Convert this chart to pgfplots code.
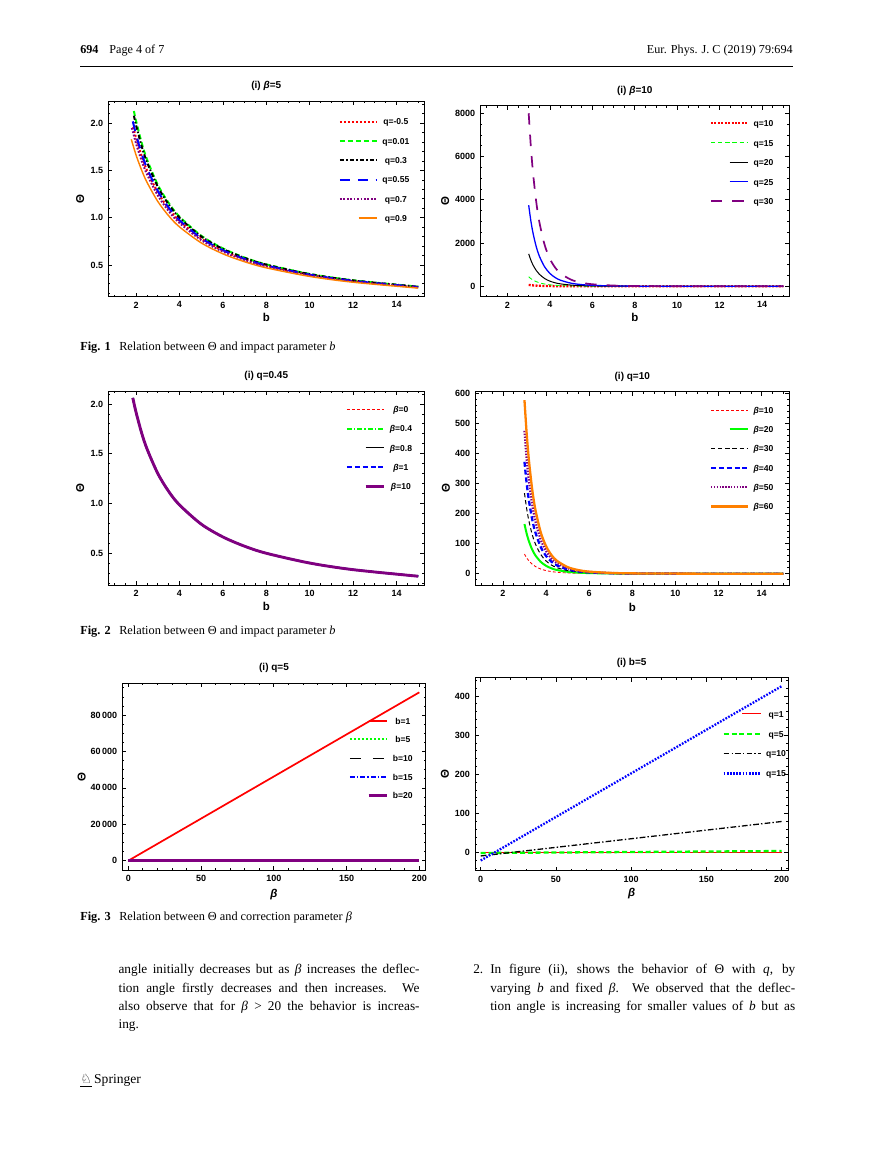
\documentclass[border=0pt]{standalone}
\usepackage{fontspec}
\setmainfont{Liberation Serif}
\newfontfamily\plotfont{Liberation Sans}
\newfontfamily\symfont{DejaVu Sans}
\usepackage{pgfplots}
\usepackage{pgfplotstable}
\pgfplotsset{compat=1.18}

\definecolor{mred}{rgb}{1,0,0}
\definecolor{mgreen}{rgb}{0,1,0}
\definecolor{mblue}{rgb}{0,0,1}
\definecolor{mpurple}{rgb}{0.5,0,0.5}
\definecolor{morange}{rgb}{1,0.5,0}

\newcommand\ticfont{\plotfont\bfseries\fontsize{6.3}{7}\selectfont}
\newcommand\legfont{\plotfont\bfseries\fontsize{6}{7}\selectfont}
\newcommand\labfont{\plotfont\bfseries\fontsize{8}{9}\selectfont}
\newcommand\titfont{\plotfont\bfseries\fontsize{7}{8}\selectfont}

\pgfplotsset{
  mma/.style={
    scale only axis, anchor=south west,
    axis line style={line width=0.6pt, black},
    tick align=inside,
    major tick length=2.8pt,
    minor tick length=1.4pt,
    every tick/.style={black, line width=0.5pt},
    tick label style={font=\ticfont},
    scaled ticks=false,
    /pgf/number format/assume math mode=true,
    label style={font=\labfont},
    title style={font=\titfont, at={(axis description cs:0.5,1)}, anchor=center, yshift=4.5pt},
    xlabel style={at={(axis description cs:0.5,0)}, anchor=center},
    ylabel style={at={(axis description cs:0,0.5)}, anchor=center},
    legend cell align=center,
    legend style={draw=none, fill=none, anchor=north west, inner sep=0pt, outer sep=0pt,
      font=\legfont, nodes={inner sep=0pt, text height=4.6pt, text depth=0pt},
      /tikz/every odd column/.append style={column sep=3pt}},
    legend image code/.code={\draw[##1] (0pt,0pt) -- (26pt,0pt);},
  },
  short/.style={legend image code/.code={\draw[##1] (13pt,0pt) -- (26pt,0pt);}},
  oneplace/.style={yticklabel style={/pgf/number format/fixed,
      /pgf/number format/fixed zerofill, /pgf/number format/precision=1}},
}

% Theta(b) for q=0.45, all beta curves coincide
\pgfplotstableread{
b th
1.85 2.060
2 1.915
2.25 1.713
2.5 1.550
3 1.301
3.5 1.121
4 0.985
5 0.792
6 0.663
7 0.5696
8 0.499
10 0.4006
12 0.334
15 0.268
}\tabqf

% beta=10, varying q
\pgfplotstableread{
b q10 q15 q20 q25 q30
3 65 440 1500 3750 8000
3.1 52.7 357 1216 3040 6486
3.2 43 291 992 2481 5293
3.35 32.1 217 740 1851 3949
3.5 24.2 164 560 1399 2984
3.75 15.6 106 360 900 1920
4 10.3 69.8 238 595 1270
4.25 7.0 47.3 161 403.5 861
4.5 4.85 32.8 112 279.8 597
5 2.47 16.7 57 142.5 304
5.5 1.35 9.1 31 77.6 166
6 0.77 5.2 17.8 44.4 94.8
7 0.29 1.9 6.6 16.6 35.4
8 0.12 0.83 2.8 7.05 15.0
10 0.03 0.2 0.68 1.69 3.6
12 0.01 0.06 0.21 0.53 1.1
15 0 0.01 0.05 0.13 0.27
}\tabbt

% q=10, varying beta
\pgfplotstableread{
b s10 s20 s30 s40 s50 s60
3 65 165 268 372 475 577
3.1 52.7 133.8 217.3 301.6 385.1 467.8
3.2 43 109.2 177.3 246.1 314.3 381.7
3.35 32.1 81.4 132.3 183.6 234.5 284.8
3.5 24.2 61.5 100 138.8 177.2 215.2
3.75 15.6 39.6 64.3 89.3 114 138.5
4 10.3 26.2 42.5 59.0 75.4 91.6
4.25 7.0 17.8 28.8 40.0 51.1 62.1
4.5 4.85 12.3 20 27.8 35.4 43.0
5 2.47 6.27 10.2 14.1 18.1 21.9
5.5 1.35 3.42 5.55 7.7 9.83 11.9
6 0.77 1.96 3.18 4.41 5.63 6.84
7 0.29 0.73 1.18 1.64 2.1 2.55
8 0.12 0.31 0.5 0.7 0.89 1.08
10 0.03 0.07 0.12 0.17 0.21 0.26
12 0.01 0.02 0.04 0.05 0.07 0.08
15 0 0.01 0.01 0.01 0.02 0.02
}\tabqt

\begin{document}
\begin{tikzpicture}[x=0.7pt,y=0.7pt]
\path[use as bounding box, fill=white] (0,0) rectangle (869,1154);

% running head
\node[anchor=base west, inner sep=0, font=\fontsize{8.5}{10}\selectfont] at (80,1100) {\textbf{694}\hspace{0.9em}Page 4 of 7};
\node[anchor=base east, inner sep=0, font=\fontsize{8.5}{10}\selectfont] at (793,1100) {Eur. Phys. J. C (2019) 79:694};
\draw[line width=1.1pt] (80,1087.3) -- (793,1087.3);

% ---------- Fig 1 (i) beta=5
\coordinate (p1) at (108.3,857.3);
\begin{axis}[mma, oneplace, at={(p1)}, width=221.2pt, height=137pt,
  xmin=0.72, xmax=15.28, ymin=0.164, ymax=2.236,
  xtick={2,4,...,14}, minor xtick={1,1.5,...,15},
  ytick={0.5,1,1.5,2}, minor ytick={0.2,0.3,...,2.2},
  title={(i) \textit{β}=5}, xlabel={b}, ylabel={Θ},
  xlabel style={yshift=-14.7pt}, ylabel style={yshift=19.6pt},
  legend style={at={(0.730,0.911)}, row sep=8.9pt}]
\addplot[mred, line width=1.4pt, dash pattern=on 1.4pt off 1.4pt, smooth] coordinates {
 (1.87,1.960) (2,1.8445) (2.25,1.6567) (2.5,1.5034) (3,1.2682) (3.5,1.0964) (4,0.9656)
 (5,0.7794) (6,0.6534) (7,0.5624) (8,0.4937) (10,0.3967) (12,0.3315) (15,0.266)};
\addlegendentry{q=-0.5}
\addplot[mgreen, line width=1.4pt, dash pattern=on 3.5pt off 2.1pt, smooth] coordinates {
 (1.9,2.130) (2,2.023) (2.25,1.799) (2.5,1.619) (3,1.349) (3.5,1.157) (4,1.012)
 (5,0.810) (6,0.675) (7,0.578) (8,0.506) (10,0.405) (12,0.3375) (15,0.270)};
\addlegendentry{q=0.01}
\addplot[black, line width=1.4pt, dash pattern=on 3pt off 1.5pt on 1pt off 1.5pt, smooth] coordinates {
 (1.9,2.080) (2,1.978) (2.25,1.763) (2.5,1.590) (3,1.329) (3.5,1.1415) (4,1.0005)
 (5,0.802) (6,0.6695) (7,0.5744) (8,0.503) (10,0.4029) (12,0.336) (15,0.269)};
\addlegendentry{q=0.3}
\addplot[mblue, line width=1.4pt, dash pattern=on 7pt off 5.5pt, smooth] coordinates {
 (1.85,2.02) (2,1.880) (2.25,1.684) (2.5,1.525) (3,1.283) (3.5,1.107) (4,0.973)
 (5,0.784) (6,0.656) (7,0.564) (8,0.495) (10,0.397) (12,0.332) (15,0.266)};
\addlegendentry{q=0.55}
\addplot[mpurple, line width=1.4pt, dash pattern=on 1.2pt off 1.2pt, smooth] coordinates {
 (1.81,1.95) (2,1.786) (2.25,1.608) (2.5,1.462) (3,1.237) (3.5,1.071) (4,0.945)
 (5,0.764) (6,0.641) (7,0.5525) (8,0.485) (10,0.390) (12,0.326) (15,0.262)};
\addlegendentry{q=0.7}
\addplot[morange, line width=1pt, smooth, short] coordinates {
 (1.78,1.83) (2,1.663) (2.25,1.507) (2.5,1.3765) (3,1.1726) (3.5,1.0207) (4,0.903)
 (5,0.734) (6,0.618) (7,0.534) (8,0.4696) (10,0.3785) (12,0.317) (15,0.255)};
\addlegendentry{q=0.9}
\end{axis}

% ---------- Fig 1 (i) beta=10
\coordinate (p2) at (480.3,857.3);
\begin{axis}[mma, at={(p2)}, width=216.3pt, height=133.7pt,
  xmin=0.72, xmax=15.28, ymin=-480, ymax=8350,
  xtick={2,4,...,14}, minor xtick={1,1.5,...,15},
  ytick={0,2000,...,8000}, minor ytick={0,500,...,8000},
  yticklabel style={/pgf/number format/1000 sep={}},
  title={(i) \textit{β}=10}, xlabel={b}, ylabel={Θ},
  xlabel style={yshift=-14.7pt}, ylabel style={yshift=24.5pt},
  legend style={at={(0.743,0.925)}, row sep=9.05pt}]
\addplot[mred, line width=1.6pt, dash pattern=on 1.4pt off 1pt, smooth] table[x=b, y=q10] {\tabbt};
\addlegendentry{q=10}
\addplot[mgreen, line width=0.6pt, dash pattern=on 3pt off 2pt, smooth] table[x=b, y=q15] {\tabbt};
\addlegendentry{q=15}
\addplot[black, line width=0.7pt, smooth, short] table[x=b, y=q20] {\tabbt};
\addlegendentry{q=20}
\addplot[mblue, line width=0.9pt, smooth, short] table[x=b, y=q25] {\tabbt};
\addlegendentry{q=25}
\addplot[mpurple, line width=1.2pt, dash pattern=on 8pt off 7pt, smooth] table[x=b, y=q30] {\tabbt};
\addlegendentry{q=30}
\end{axis}

\node[anchor=base west, inner sep=0, font=\fontsize{8.6}{11}\selectfont] at (80,803) {\textbf{Fig. 1}\hspace{0.7em}Relation between Θ and impact parameter \textit{b}};

% ---------- Fig 2 (i) q=0.45
\coordinate (p3) at (108.3,569);
\begin{axis}[mma, oneplace, at={(p3)}, width=221.2pt, height=135.8pt,
  xmin=0.72, xmax=15.28, ymin=0.18, ymax=2.13,
  xtick={2,4,...,14}, minor xtick={1,1.5,...,15},
  ytick={0.5,1,1.5,2}, minor ytick={0.2,0.3,...,2.1},
  title={(i) q=0.45}, xlabel={b}, ylabel={Θ},
  xlabel style={yshift=-15.2pt}, ylabel style={yshift=19.6pt},
  legend style={at={(0.752,0.923)}, row sep=8.9pt}]
\addplot[mred, line width=0.6pt, dash pattern=on 2pt off 1.5pt, smooth] table[x=b, y=th] {\tabqf};
\addlegendentry{\textit{β}=0}
\addplot[mgreen, line width=1.4pt, dash pattern=on 3.5pt off 1.4pt on 1pt off 1.4pt, smooth] table[x=b, y=th] {\tabqf};
\addlegendentry{\textit{β}=0.4}
\addplot[black, line width=0.6pt, smooth, short] table[x=b, y=th] {\tabqf};
\addlegendentry{\textit{β}=0.8}
\addplot[mblue, line width=1.4pt, dash pattern=on 3.5pt off 2pt, smooth] table[x=b, y=th] {\tabqf};
\addlegendentry{\textit{β}=1}
\addplot[mpurple, line width=2pt, smooth, short] table[x=b, y=th] {\tabqf};
\addlegendentry{\textit{β}=10}
\end{axis}

% ---------- Fig 2 (i) q=10
\coordinate (p4) at (475.3,568.7);
\begin{axis}[mma, at={(p4)}, width=219.8pt, height=135.5pt,
  xmin=0.72, xmax=15.28, ymin=-38.6, ymax=605,
  xtick={2,4,...,14}, minor xtick={1,1.5,...,15},
  ytick={0,100,...,600}, minor ytick={-20,0,...,600},
  title={(i) q=10}, xlabel={b}, ylabel={Θ},
  xlabel style={yshift=-15.2pt}, ylabel style={yshift=20.6pt},
  legend style={at={(0.747,0.922)}, row sep=8.9pt}]
\addplot[mred, line width=0.6pt, dash pattern=on 2pt off 1.5pt, smooth] table[x=b, y=s10] {\tabqt};
\addlegendentry{\textit{β}=10}
\addplot[mgreen, line width=1.4pt, smooth, short] table[x=b, y=s20] {\tabqt};
\addlegendentry{\textit{β}=20}
\addplot[black, line width=0.7pt, dash pattern=on 3pt off 2pt, smooth] table[x=b, y=s30] {\tabqt};
\addlegendentry{\textit{β}=30}
\addplot[mblue, line width=1.6pt, dash pattern=on 3.5pt off 2pt, smooth] table[x=b, y=s40] {\tabqt};
\addlegendentry{\textit{β}=40}
\addplot[mpurple, line width=1.6pt, dash pattern=on 1pt off 1pt, smooth] table[x=b, y=s50] {\tabqt};
\addlegendentry{\textit{β}=50}
\addplot[morange, line width=1.6pt, smooth] table[x=b, y=s60] {\tabqt};
\addlegendentry{\textit{β}=60}
\end{axis}

\node[anchor=base west, inner sep=0, font=\fontsize{8.6}{11}\selectfont] at (80,519) {\textbf{Fig. 2}\hspace{0.7em}Relation between Θ and impact parameter \textit{b}};

% ---------- Fig 3 (i) q=5
\coordinate (p5) at (122.3,284);
\begin{axis}[mma, at={(p5)}, width=212.4pt, height=130.7pt,
  xmin=-4.1, xmax=204.4, ymin=-5100, ymax=97470,
  xtick={0,50,...,200}, minor xtick={0,10,...,200},
  ytick={0,20000,...,80000}, minor ytick={0,5000,...,95000},
  yticklabel style={/pgf/number format/1000 sep={\,}, /pgf/number format/min exponent for 1000 sep=4},
  title={(i) q=5}, xlabel={\textit{β}}, ylabel={Θ},
  xlabel style={yshift=-17.5pt}, ylabel style={yshift=28.5pt},
  legend style={at={(0.747,0.817)}, row sep=8.5pt}]
\addplot[mred, line width=1.2pt, short] coordinates {(0,4) (100,46250) (200,92500)};
\addlegendentry{b=1}
\addplot[mgreen, line width=1.4pt, dash pattern=on 1.4pt off 1.4pt] coordinates {(0,0.8) (100,2.4) (200,4)};
\addlegendentry{b=5}
\addplot[black, line width=0.7pt, dash pattern=on 8pt off 8pt] coordinates {(0,0.4) (100,0.45) (200,0.5)};
\addlegendentry{b=10}
\addplot[mblue, line width=1.4pt, dash pattern=on 3.5pt off 1.4pt on 1pt off 1.4pt] coordinates {(0,0.27) (100,0.28) (200,0.3)};
\addlegendentry{b=15}
\addplot[mpurple, line width=2.2pt, short] coordinates {(0,0.2) (100,0.2) (200,0.2)};
\addlegendentry{b=20}
\end{axis}

% ---------- Fig 3 (i) b=5
\coordinate (p6) at (475,283.3);
\begin{axis}[mma, at={(p6)}, width=219.3pt, height=135.1pt,
  xmin=-3.8, xmax=204.4, ymin=-46, ymax=446.7,
  xtick={0,50,...,200}, minor xtick={0,10,...,200},
  ytick={0,100,...,400}, minor ytick={-40,-20,...,440},
  title={(i) b=5}, xlabel={\textit{β}}, ylabel={Θ},
  xlabel style={yshift=-15.8pt}, ylabel style={yshift=21pt},
  legend style={at={(0.79,0.829)}, row sep=9.3pt}]
\addplot[mred, line width=0.7pt, short] coordinates {(0,0.8) (100,0.8) (200,0.8)};
\addlegendentry{q=1}
\addplot[mgreen, line width=1.6pt, dash pattern=on 3.5pt off 2pt] coordinates {(0,-0.8) (100,1.7) (200,4.2)};
\addlegendentry{q=5}
\addplot[black, line width=0.9pt, dash pattern=on 4pt off 1.5pt on 1pt off 1.5pt] coordinates {(0,-8.4) (100,35.6) (200,79.6)};
\addlegendentry{q=10}
\addplot[mblue, line width=1.6pt, dash pattern=on 1.2pt off 1pt] coordinates {(0,-20) (100,202.5) (200,425)};
\addlegendentry{q=15}
\end{axis}

\node[anchor=base west, inner sep=0, font=\fontsize{8.6}{11}\selectfont] at (80,233) {\textbf{Fig. 3}\hspace{0.7em}Relation between Θ and correction parameter \textit{β}};

% body text
\begin{scope}[every node/.style={anchor=base west, inner sep=0, font=\fontsize{9.3}{11}\selectfont}]
\node at (118.3,180) {\makebox[210.7pt][s]{angle initially decreases but as \textit{β} increases the deflec-}};
\node at (118.3,161.7) {\makebox[210.7pt][s]{tion angle firstly decreases and then increases. We}};
\node at (118.3,143.3) {\makebox[210.7pt][s]{also observe that for \textit{β} > 20 the behavior is increas-}};
\node at (118.3,125) {ing.};
\node at (473,180) {2.};
\node at (490,180) {\makebox[213.5pt][s]{In figure (ii), shows the behavior of Θ with \textit{q}, by}};
\node at (490,161.7) {\makebox[213.5pt][s]{varying \textit{b} and fixed \textit{β}. We observed that the deflec-}};
\node at (490,143.3) {\makebox[213.5pt][s]{tion angle is increasing for smaller values of \textit{b} but as}};
\end{scope}

\node[anchor=base west, inner sep=0] at (80,70) {{\symfont\fontsize{9}{10}\selectfont\underline{♘}}\,{\fontsize{9.5}{11}\selectfont Springer}};
\end{tikzpicture}
\end{document}
